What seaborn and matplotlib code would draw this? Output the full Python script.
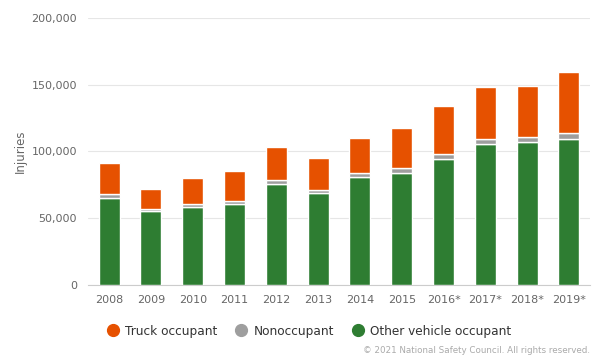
import numpy as np
import pandas as pd
import matplotlib
matplotlib.use("Agg")
import matplotlib.pyplot as plt
from matplotlib.lines import Line2D
import seaborn as sns

years = ["2008", "2009", "2010", "2011", "2012", "2013", "2014", "2015",
         "2016*", "2017*", "2018*", "2019*"]
other_vehicle = [65200, 55700, 58700, 60400, 75400, 68700, 81100, 84200,
                 94600, 105900, 107400, 109600]
nonoccupant = [3000, 1200, 2000, 2300, 3300, 2500, 2600, 3200,
               3800, 3500, 3200, 4300]
truck = [23200, 15000, 19500, 22700, 24900, 24200, 26400, 30200,
         35700, 39200, 38700, 45900]

c_truck = "#e65100"
c_non = "#9e9e9e"
c_other = "#2e7d32"
txt = "#666666"

df = pd.DataFrame({"year": years, "other": other_vehicle,
                   "non": nonoccupant, "truck": truck})
df["b_non"] = df["other"]
df["b_truck"] = df["other"] + df["non"]

sns.set_style("white")
plt.rcParams["font.family"] = ["DejaVu Sans"]

fig = plt.figure(figsize=(6, 3.58), dpi=100)
ax = fig.add_axes([0.147, 0.204, 0.836, 0.746])

sns.barplot(data=df, x="year", y="other", color=c_other, width=0.5, saturation=1,
            edgecolor="white", linewidth=1, ax=ax, zorder=3)
sns.barplot(data=df, x="year", y="non", color=c_non, width=0.5, saturation=1,
            bottom=df["b_non"], edgecolor="white", linewidth=1, ax=ax, zorder=3)
sns.barplot(data=df, x="year", y="truck", color=c_truck, width=0.5, saturation=1,
            bottom=df["b_truck"], edgecolor="white", linewidth=1, ax=ax, zorder=3)

ax.set_ylim(0, 200000)
ax.set_xlim(-0.5, 11.5)
ax.set_yticks([0, 50000, 100000, 150000, 200000])
ax.set_yticklabels(["0", "50,000", "100,000", "150,000", "200,000"])
ax.yaxis.grid(True, color="#e6e6e6", linewidth=0.8, zorder=0)
ax.set_axisbelow(True)
for s in ["top", "right", "left"]:
    ax.spines[s].set_visible(False)
ax.spines["bottom"].set_color("#cccccc")
ax.tick_params(axis="both", length=0, labelsize=8, labelcolor=txt, pad=8)
ax.tick_params(axis="x", pad=7)
ax.set_xlabel("")
ax.set_ylabel("Injuries", fontsize=8.5, color=txt, labelpad=3)

handles = [Line2D([], [], marker="o", linestyle="", markersize=8.5, color=c)
           for c in [c_truck, c_non, c_other]]
fig.legend(handles, ["Truck occupant", "Nonoccupant", "Other vehicle occupant"],
           loc="center", bbox_to_anchor=(0.515, 0.075), ncol=3, frameon=False,
           fontsize=8.7, labelcolor="#333333", handlelength=1.0,
           handletextpad=0.5, columnspacing=1.5)

fig.text(0.983, 0.022, "\u00a9 2021 National Safety Council. All rights reserved.",
         ha="right", va="center", fontsize=6.3, color="#aaaaaa")

fig.savefig("out.png", dpi=100)
